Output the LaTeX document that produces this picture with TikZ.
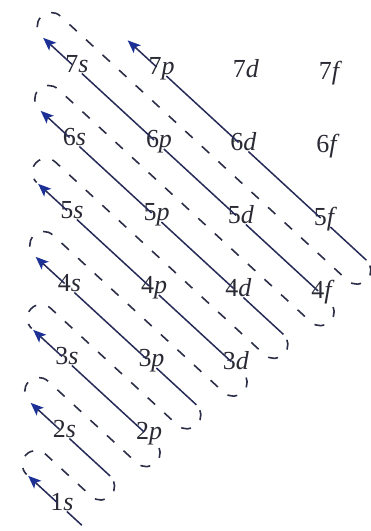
\documentclass[tikz,border=0pt]{standalone}
\usepackage{fontspec}
\setmainfont{Liberation Serif}
\usetikzlibrary{arrows.meta}
\definecolor{linecol}{RGB}{38,42,86}
\definecolor{dashcol}{RGB}{44,46,72}
\definecolor{tipcol}{RGB}{28,48,150}
\definecolor{txtcol}{RGB}{42,42,52}
\begin{document}
\begin{tikzpicture}[x=1pt,y=1pt,
  frame/.style={shift={({62+2.5*(#1-1)},{24+73*(#1-1)})},rotate=-42.64},
  lab/.style={font=\fontsize{26}{28}\selectfont, text=txtcol, fill=white, inner sep=1pt, text height=0.66em, text depth=0pt},
  sl/.style={draw=linecol, line width=1.5pt},
  arr/.style={sl, -{Stealth[length=13pt,width=10.5pt,inset=3pt,color=tipcol]}},
  dl/.style={draw=dashcol, line width=1.6pt, dash pattern=on 10pt off 12.5pt, dash phase=16pt}
]
\useasboundingbox (0,0) rectangle (371,531);

% dashed hairpin loops and named coordinates along each diagonal
\foreach \m/\T in {1/14.4,2/72.9,3/124.9,4/184.4,5/236.4,6/295.9,7/342.4} {
  \path[frame=\m] (-46,0) coordinate (tip\m);
  \draw[frame=\m, dl] (\T,55.4) arc[start angle=90,end angle=-90,radius=13.85]
     -- (-48,27.7) arc[start angle=90,end angle=270,radius=13.85];
}
\path[frame=1] (27,0) coordinate (beg1);
\path[frame=2] (62,0) coordinate (end2);
\path[frame=4] (172.5,0) coordinate (end4);
\path[frame=6] (284,0) coordinate (end6);
\path[frame=8] (390,0) coordinate (end8);
\path[frame=8] (65.5,0) coordinate (tip8);

% labels
\node[lab] (n1s) at (62,24) {1\textit{s}};
\node[lab] (n2s) at (64.5,97) {2\textit{s}};
\node[lab] (n3s) at (67,170) {3\textit{s}};
\node[lab] (n4s) at (69.5,243) {4\textit{s}};
\node[lab] (n5s) at (72,316) {5\textit{s}};
\node[lab] (n6s) at (74.5,389) {6\textit{s}};
\node[lab] (n7s) at (77,462) {7\textit{s}};
\node[lab] (n2p) at (149,94.5) {2\textit{p}};
\node[lab] (n3p) at (151.5,167.5) {3\textit{p}};
\node[lab] (n4p) at (154,240.5) {4\textit{p}};
\node[lab] (n5p) at (156.5,313.5) {5\textit{p}};
\node[lab] (n6p) at (159,386.5) {6\textit{p}};
\node[lab] (n7p) at (161.5,459.5) {7\textit{p}};
\node[lab] (n3d) at (236,165) {3\textit{d}};
\node[lab] (n4d) at (238.5,238) {4\textit{d}};
\node[lab] (n5d) at (241,311) {5\textit{d}};
\node[lab] (n6d) at (243.5,384) {6\textit{d}};
\node[lab] (n7d) at (246,457) {7\textit{d}};
\node[lab] (n4f) at (323,235.5) {4\textit{f}};
\node[lab] (n5f) at (325.5,308.5) {5\textit{f}};
\node[lab] (n6f) at (328,381.5) {6\textit{f}};
\node[lab] (n7f) at (330.5,454.5) {7\textit{f}};

% solid diagonals
\draw[sl] (beg1) -- (n1s);
\draw[arr] (n1s) -- (tip1);
\draw[sl] (end2) -- (n2s);
\draw[arr] (n2s) -- (tip2);
\draw[sl] (n2p) -- (n3s);
\draw[arr] (n3s) -- (tip3);
\draw[sl] (end4) -- (n3p) (n3p) -- (n4s);
\draw[arr] (n4s) -- (tip4);
\draw[sl] (n3d) -- (n4p) (n4p) -- (n5s);
\draw[arr] (n5s) -- (tip5);
\draw[sl] (end6) -- (n4d) (n4d) -- (n5p) (n5p) -- (n6s);
\draw[arr] (n6s) -- (tip6);
\draw[sl] (n4f) -- (n5d) (n5d) -- (n6p) (n6p) -- (n7s);
\draw[arr] (n7s) -- (tip7);
\draw[sl] (end8) -- (n5f) (n5f) -- (n6d) (n6d) -- (n7p);
\draw[arr] (n7p) -- (tip8);
\end{tikzpicture}
\end{document}
